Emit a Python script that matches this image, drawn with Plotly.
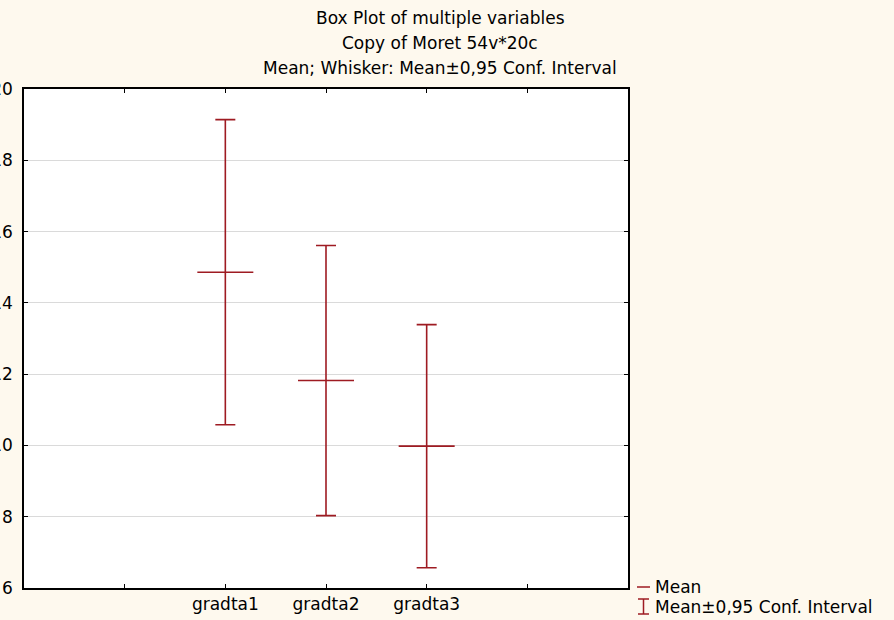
import plotly.graph_objects as go

# ---- data ----
categories = ["gradta1", "gradta2", "gradta3"]
means = [14.86, 11.82, 9.98]
ci_half = [4.28, 3.79, 3.41]          # half-width of the 0.95 confidence interval
y_ticks = [6, 8, 10, 12, 14, 16, 18, 20]
title_lines = ["Box Plot of multiple variables",
               "Copy of Moret 54v*20c",
               "Mean; Whisker: Mean\u00b10,95 Conf. Interval"]
legend_labels = ["Mean", "Mean\u00b10,95 Conf. Interval"]

RED = "#9E1B22"
BG = "#FEF9EE"
FONT = "DejaVu Sans"
FS = 17

W, H = 894, 620
ml, mr, mt, mb = 24, 266, 89, 32
pw = W - ml - mr
ph = H - mt - mb

def px_x(p):
    return (p - ml) / pw

def px_y(p):
    return 1 - (p - mt) / ph

xpos = [i + 2 for i in range(len(categories))]
tickvals = list(range(1, len(categories) + 3))
ticktext = [""] + categories + [""]

fig = go.Figure()
fig.add_trace(go.Scatter(
    x=xpos, y=means, mode="markers",
    marker=dict(symbol="line-ew", size=40, color=RED,
                line=dict(color=RED, width=1.6)),
    error_y=dict(type="data", array=ci_half, symmetric=True,
                 color=RED, thickness=1.6, width=10),
    showlegend=False, hoverinfo="skip"))

fig.update_layout(
    template="none",
    width=W, height=H,
    margin=dict(l=ml, r=mr, t=mt, b=mb, pad=0),
    paper_bgcolor=BG,
    plot_bgcolor="#FFFFFF",
    font=dict(family=FONT, size=FS, color="#000000"),
    showlegend=False,
    xaxis=dict(range=[0, len(categories) + 3], tickvals=tickvals, ticktext=ticktext,
               showgrid=False, zeroline=False, showline=True, linecolor="#000000",
               linewidth=1.5, mirror="ticks", ticks="inside", ticklen=4,
               tickcolor="#000000", automargin=False,
               tickfont=dict(family=FONT, size=FS)),
    yaxis=dict(range=[y_ticks[0], y_ticks[-1]], tickvals=y_ticks,
               showgrid=True, gridcolor="#DADADA", gridwidth=1, zeroline=False,
               showline=True, linecolor="#000000", linewidth=1.5, mirror="ticks",
               ticks="inside", ticklen=4, tickcolor="#000000", automargin=False,
               ticklabelstandoff=6,
               tickfont=dict(family=FONT, size=FS)),
)

# title lines
for txt, yp in zip(title_lines, [18, 43, 68]):
    fig.add_annotation(text=txt, xref="paper", yref="paper",
                       x=px_x(440), y=px_y(yp), xanchor="center", yanchor="middle",
                       showarrow=False, font=dict(family=FONT, size=FS))

# legend (drawn manually)
fig.add_shape(type="line", xref="paper", yref="paper",
              x0=px_x(637), x1=px_x(650), y0=px_y(587), y1=px_y(587),
              line=dict(color=RED, width=1.5))
fig.add_shape(type="line", xref="paper", yref="paper",
              x0=px_x(643.5), x1=px_x(643.5), y0=px_y(599), y1=px_y(614),
              line=dict(color=RED, width=1.5))
for yy in (599, 614):
    fig.add_shape(type="line", xref="paper", yref="paper",
                  x0=px_x(638), x1=px_x(649), y0=px_y(yy), y1=px_y(yy),
                  line=dict(color=RED, width=1.5))
for txt, yp in zip(legend_labels, [587, 607]):
    fig.add_annotation(text=txt, xref="paper", yref="paper",
                       x=px_x(653), y=px_y(yp), xanchor="left", yanchor="middle",
                       showarrow=False, font=dict(family=FONT, size=FS))

fig.write_html(
    "out.html",
    config={"displayModeBar": False},
    post_script=("document.body.style.margin='0';"
                 "document.body.style.background='" + BG + "';"
                 "document.body.style.overflow='hidden';"),
)
